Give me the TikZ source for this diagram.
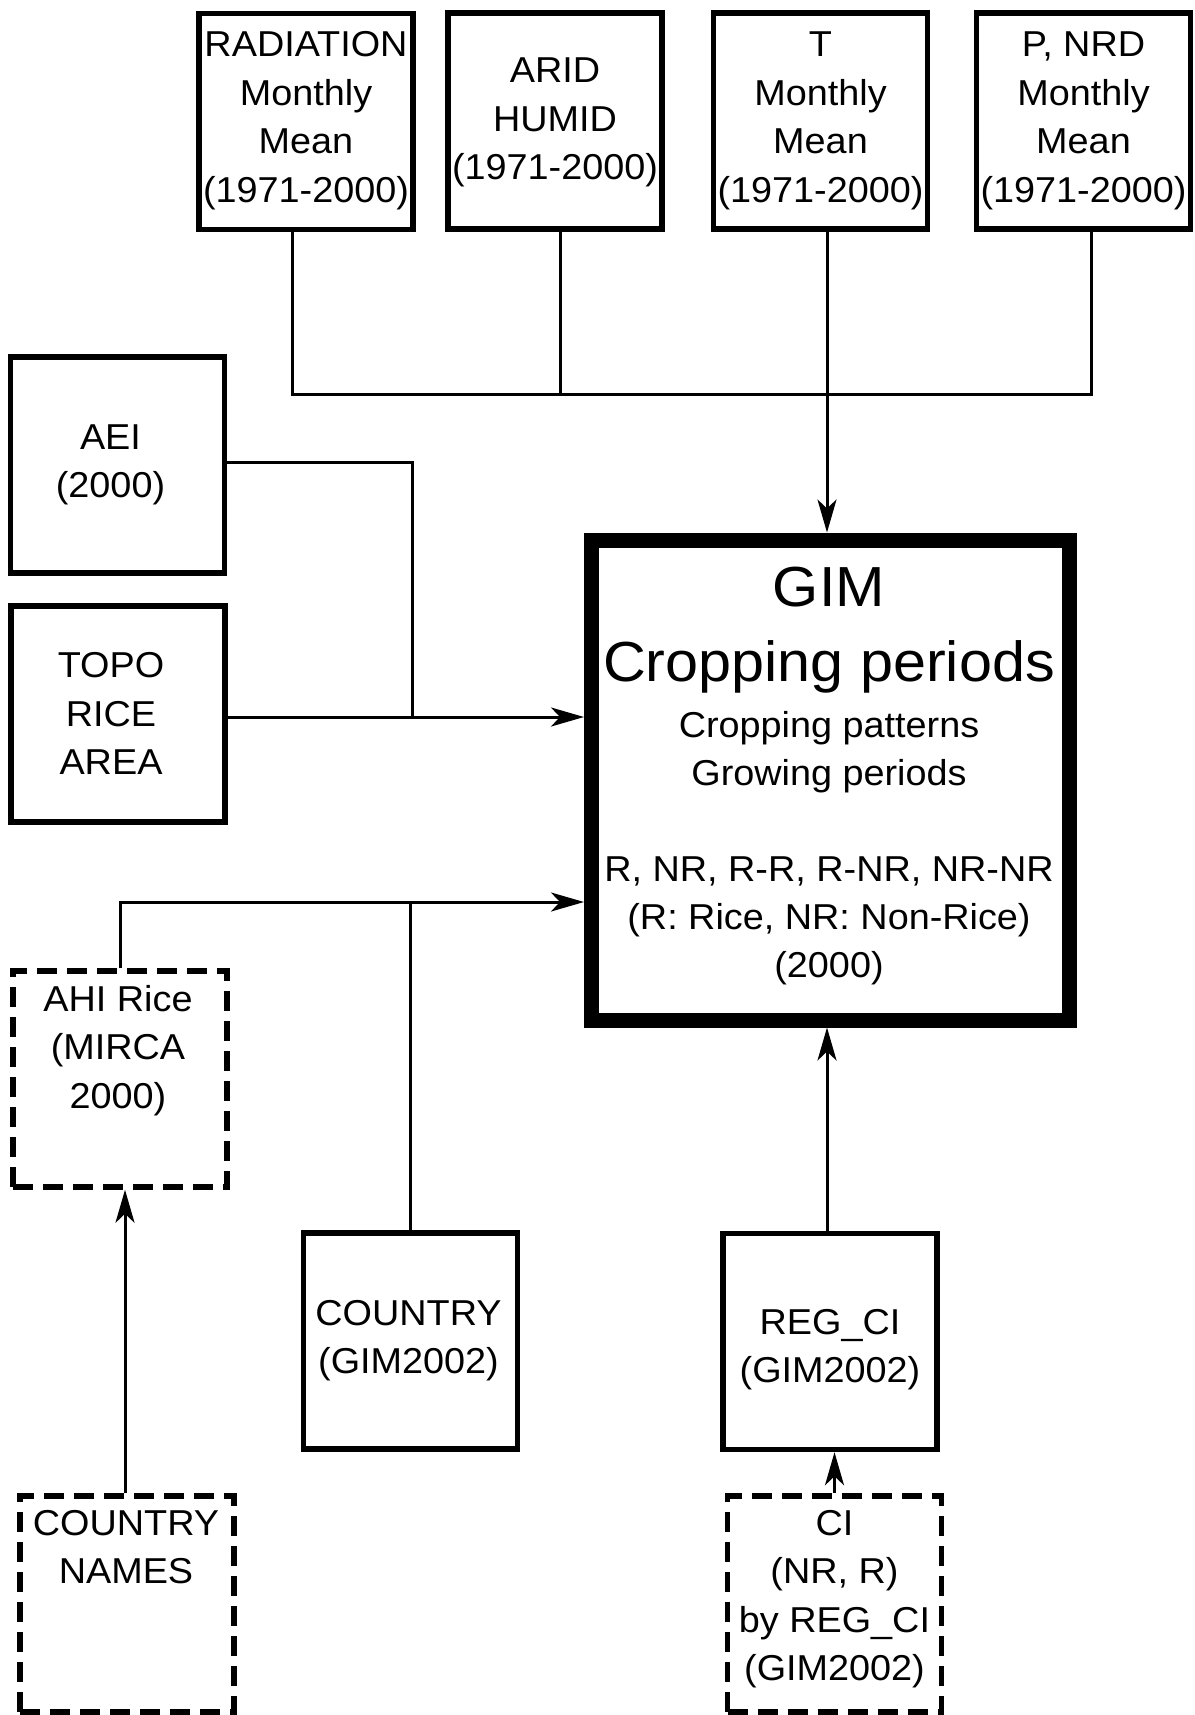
\documentclass[tikz,border=0pt]{standalone}
\usepackage{fontspec}
\setmainfont[FakeStretch=1.05]{Liberation Sans}
\usetikzlibrary{arrows.meta}
\newcommand{\ml}[1]{\begin{tabular}[t]{@{}c@{}}#1\end{tabular}}
% \bt[extra right space]{raise of first baseline above node centre}{lines}
\newcommand{\bt}[3][0pt]{\raisebox{#2}[0pt][0pt]{\ml{#3}}\hspace*{#1}}
\tikzset{
  box/.style={draw, line width=5.5pt, minimum width=214pt, minimum height=216pt,
    inner sep=0pt, font=\fontsize{36}{48.5}\selectfont},
  dbox/.style={box, dash pattern=on 20pt off 10pt},
  conn/.style={line width=3pt},
  arr/.style={conn, -{Stealth[length=33pt,width=19pt,inset=9pt]}},
  gimbox/.style={draw, line width=15pt, minimum width=478pt, minimum height=480pt, inner sep=0pt},
  gimtxt/.style={anchor=base, inner sep=0pt},
}
\begin{document}
\begin{tikzpicture}[x=1pt,y=-1pt]
\fill[white] (0,0) rectangle (1194,1715);
\useasboundingbox (0,0) rectangle (1194,1715);

% top inputs
\node[box] (rad) at (306,121.5) {\bt{64.8pt}{RADIATION\\Monthly\\Mean\\(1971-2000)}};
\node[box] (arid) at (555,121) {\bt{38pt}{ARID\\HUMID\\(1971-2000)}};
\node[box] (t) at (820.5,121) {\bt{64.3pt}{T\\Monthly\\Mean\\(1971-2000)}};
\node[box] (pnrd) at (1083.5,121) {\bt{64.3pt}{P, NRD\\Monthly\\Mean\\(1971-2000)}};

% left inputs
\node[box] (aei) at (117.5,465) {\bt[14pt]{15.7pt}{AEI\\(2000)}};
\node[box] (topo) at (118,714) {\bt[14pt]{36.2pt}{TOPO\\RICE\\AREA}};
\node[dbox] (ahi) at (120,1079) {\bt[4pt]{67.7pt}{AHI Rice\\(MIRCA\\2000)}};
\node[dbox] (cn) at (127,1604) {\bt[2pt]{69pt}{COUNTRY\\NAMES}};

% bottom inputs
\node[box] (country) at (410.5,1341) {\bt[4pt]{16pt}{COUNTRY\\(GIM2002)}};
\node[box] (reg) at (830,1341.5) {\bt{7.5pt}{REG\_CI\\(GIM2002)}};
\node[dbox] (ci) at (834.5,1604) {\bt{69pt}{CI\\(NR, R)\\by REG\_CI\\(GIM2002)}};

% central box
\node[gimbox] (gim) at (830.5,780) {};
\node[gimtxt, font=\fontsize{56.5}{75}\selectfont] (gimt) at (829,606) {\ml{GIM\\Cropping periods}};
\node[gimtxt, font=\fontsize{36}{48}\selectfont] (gims) at (829,737) {\ml{Cropping patterns\\Growing periods}};
\node[gimtxt, font=\fontsize{36}{48}\selectfont] (gimc) at (829,881) {\ml{R, NR, R-R, R-NR, NR-NR\\(R: Rice, NR: Non-Rice)\\(2000)}};

% top connectors
\coordinate (jr) at (292,394);
\coordinate (ja) at (560,394);
\coordinate (jt) at (827,394);
\coordinate (jp) at (1091,394);
\draw[conn] (rad.south -| jr) -- (jr) -- (jp) -- (pnrd.south -| jp);
\draw[conn] (arid.south -| ja) -- (ja);
\draw[arr] (t.south -| jt) -- (gim.north -| jt);

% left connectors
\coordinate (jae) at (412,462.5);
\coordinate (jv) at (412,717);
\draw[conn] (aei.east |- jae) -- (jae) -- (jv);
\draw[arr] (topo.east |- jv) -- (gim.west |- jv);

% lower connectors
\coordinate (ly) at (0,902);
\coordinate (jreg) at (827,0);
\coordinate (jcn) at (125,0);
\draw[arr] (ahi.north) |- (gim.west |- ly);
\draw[conn] (country.north) -- (country.north |- ly);
\draw[arr] (cn.north -| jcn) -- (ahi.south -| jcn);
\draw[arr] (reg.north -| jreg) -- (gim.south -| jreg);
\draw[arr] (ci.north) -- (ci.north |- reg.south);
\end{tikzpicture}
\end{document}
